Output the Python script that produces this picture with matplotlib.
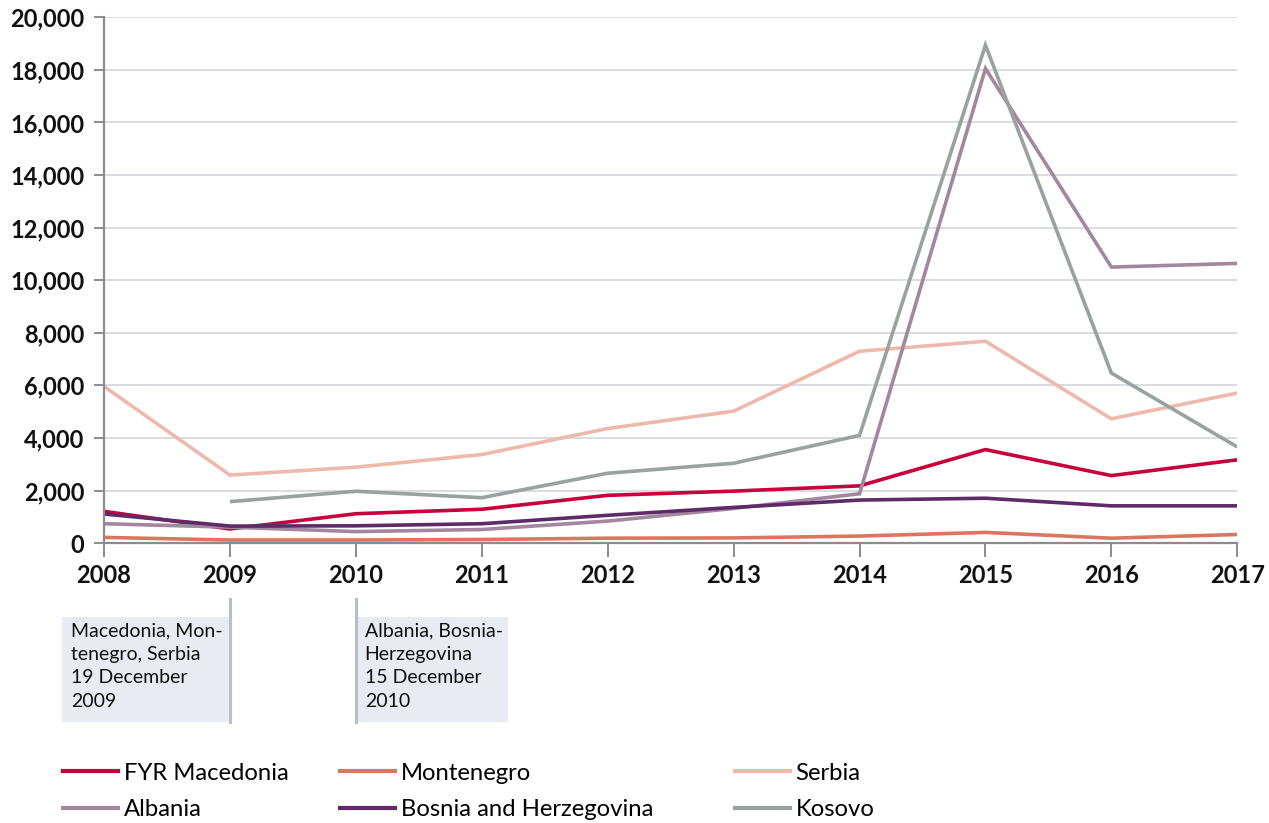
import numpy as np
import matplotlib
matplotlib.use("Agg")
import matplotlib.pyplot as plt
from matplotlib.lines import Line2D
from matplotlib.patches import Rectangle
import matplotlib.transforms as mtransforms

plt.rcParams['font.family'] = ['Lato', 'DejaVu Sans']

# data
years = [2008, 2009, 2010, 2011, 2012, 2013, 2014, 2015, 2016, 2017]
fyr_macedonia = [1210, 540, 1120, 1290, 1820, 1980, 2180, 3560, 2570, 3170]
montenegro = [220, 120, 120, 140, 190, 200, 270, 410, 190, 330]
serbia = [5960, 2590, 2890, 3370, 4360, 5020, 7300, 7680, 4730, 5710]
albania = [740, 610, 440, 520, 840, 1320, 1880, 18050, 10500, 10640]
bosnia = [1110, 650, 660, 740, 1060, 1360, 1640, 1710, 1420, 1420]
kosovo = [np.nan, 1580, 1975, 1730, 2660, 3040, 4100, 18940, 6470, 3660]
y_ticks = [0, 2000, 4000, 6000, 8000, 10000, 12000, 14000, 16000, 18000, 20000]

series = [
    ("FYR Macedonia", fyr_macedonia, "#C8003C"),
    ("Montenegro", montenegro, "#DC7560"),
    ("Serbia", serbia, "#EEB9AD"),
    ("Albania", albania, "#A3879E"),
    ("Bosnia and Herzegovina", bosnia, "#5E2A68"),
    ("Kosovo", kosovo, "#9AA1A1"),
]

# visa liberalisation notes
notes = [
    (2009, "Macedonia, Mon-\ntenegro, Serbia\n19 December\n2009", "left"),
    (2010, "Albania, Bosnia-\nHerzegovina\n15 December\n2010", "right"),
]

fig = plt.figure(figsize=(12.69, 8.23), dpi=100)
ax = fig.add_axes([0.082, 0.340, 0.893, 0.639])

handles = {}
for name, vals, col in series:
    h, = ax.plot(years, vals, color=col, lw=2.6, solid_capstyle='butt',
                 solid_joinstyle='miter', label=name)
    handles[name] = h

ax.set_xlim(2008, 2017)
ax.set_ylim(0, 20000)
tick_font = dict(fontfamily='Lato', fontweight='bold', fontsize=17,
                 color='#111111')
ax.set_yticks(y_ticks, labels=[f"{v:,}" for v in y_ticks], **tick_font)
ax.set_xticks(years, labels=[str(y) for y in years], **tick_font)
ax.grid(axis='y', color='#D9DCE0', lw=1.4)
ax.set_axisbelow(True)
for s in ['top', 'right']:
    ax.spines[s].set_visible(False)
for s in ['left', 'bottom']:
    ax.spines[s].set_color('#8C8C8C')
    ax.spines[s].set_linewidth(1.6)
ax.tick_params(axis='y', length=7, width=1.4, color='#8C8C8C', pad=7)
ax.tick_params(axis='x', length=10, width=1.4, color='#8C8C8C', pad=5)

# note boxes under the axis
trans = mtransforms.blended_transform_factory(ax.transData, ax.transAxes)
for yr, txt, side in notes:
    w = 1.335 if side == "left" else 1.21
    x0 = yr - w if side == "left" else yr
    ax.add_patch(Rectangle((x0, -0.340), w, 0.199, transform=trans,
                           facecolor='#E8EBF2', edgecolor='none', clip_on=False))
    ax.add_line(Line2D([yr, yr], [-0.106, -0.340], transform=trans,
                       color='#B4BFC8', lw=2.2, clip_on=False))
    ax.text(x0 + 0.07, -0.150, txt, transform=trans, ha='left', va='top',
            fontsize=14, linespacing=1.47, color='#111111')

# legend in three columns
cols = [("FYR Macedonia", "Albania"), ("Montenegro", "Bosnia and Herzegovina"),
        ("Serbia", "Kosovo")]
col_x = [0.0496, 0.268, 0.579]
for cx, names in zip(col_x, cols):
    hs = [Line2D([], [], color=handles[n].get_color(), lw=3) for n in names]
    fig.legend(hs, names, loc='upper left', bbox_to_anchor=(cx, 0.0735),
               frameon=False, fontsize=17.2, handlelength=2.3,
               handletextpad=0.25, labelspacing=0.66, borderpad=0,
               borderaxespad=0)

fig.savefig("out.png", dpi=100)
